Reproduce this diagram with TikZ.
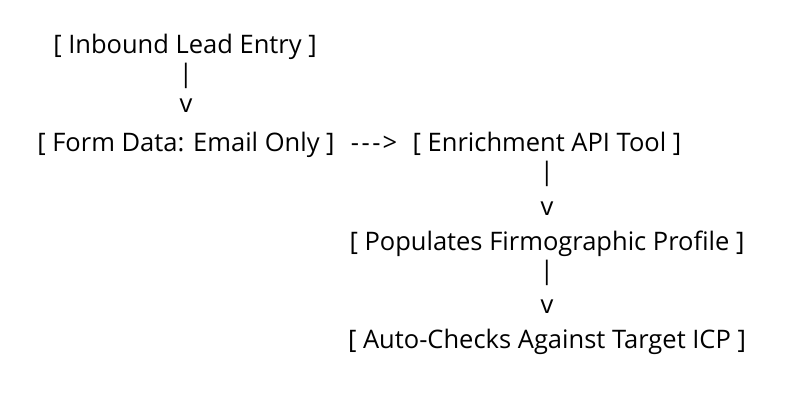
\documentclass[tikz,border=0pt]{standalone}
\usepackage{fontspec}
\setmainfont{Open Sans}
\begin{document}
\begin{tikzpicture}[x=1pt,y=1pt,
  lbl/.style={inner sep=0pt, anchor=base, font=\fontsize{25.5}{30}\selectfont}]
\useasboundingbox (0,0) rectangle (800,400);
\fill[white] (0,0) rectangle (800,400);
\node[lbl] (inbound) at (185,346) {[ Inbound Lead Entry ]};
\node[lbl] (bar1) at (186,318) {|};
\node[lbl] (v1) at (186,288) {v};
\node[lbl] (form) at (186,249) {[ Form Data: Email Only ]};
\node[lbl] (arr) at (374,249) {-\kern2.5pt-\kern2.5pt-\kern2pt>};
\node[lbl] (enrich) at (547,249) {[ Enrichment API Tool ]};
\node[lbl] (bar2) at (547,220) {|};
\node[lbl] (v2) at (547,185) {v};
\node[lbl] (pop) at (547,150) {[ Populates Firmographic Profile ]};
\node[lbl] (bar3) at (547,121) {|};
\node[lbl] (v3) at (547,87) {v};
\node[lbl] (auto) at (547,52) {[ Auto-Checks Against Target ICP ]};
\end{tikzpicture}
\end{document}
